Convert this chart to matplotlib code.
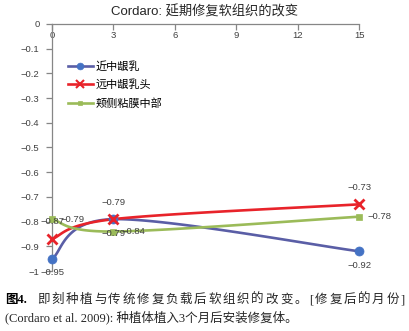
import numpy as np
import matplotlib
matplotlib.use("Agg")
import matplotlib.pyplot as plt

plt.rcParams['font.family'] = ['Liberation Sans', 'Noto Sans CJK SC', 'DejaVu Sans']
plt.rcParams['axes.unicode_minus'] = True

months = [0, 3, 15]
mesial = [-0.95, -0.79, -0.92]
distal = [-0.87, -0.79, -0.73]
buccal = [-0.79, -0.84, -0.78]
names = ['近中龈乳', '远中龈乳头', '颊侧粘膜中部']


def smooth(x, y, n=40):
    # Bezier smoothing through the points, tangents from neighbours
    p = np.column_stack([x, y]).astype(float)
    ext = np.vstack([p[0], p, p[-1]])
    out = []
    t = np.linspace(0, 1, n)[:, None]
    for i in range(len(p) - 1):
        p0, p3 = p[i], p[i + 1]
        p1 = p0 + (ext[i + 2] - ext[i]) / 6
        p2 = p3 - (ext[i + 3] - ext[i + 1]) / 6
        seg = ((1 - t) ** 3 * p0 + 3 * (1 - t) ** 2 * t * p1
               + 3 * (1 - t) * t ** 2 * p2 + t ** 3 * p3)
        out.append(seg)
    c = np.vstack(out)
    return c[:, 0], c[:, 1]


fig = plt.figure(figsize=(4.1, 3.31), dpi=100)
ax = fig.add_axes([0.127, 0.181, 0.749, 0.747])

styles = [
    (mesial, '#5a5ea6', 'o', '#4472c4', 6.5),
    (distal, '#e8232a', 'x', '#e8232a', 7.5),
    (buccal, '#9bbb59', 's', '#9bbb59', 3.8),
]
for (vals, lc, mk, mc, ms), name in zip(styles, names):
    sx, sy = smooth(months, vals)
    ax.plot(sx, sy, color=lc, lw=1.9, solid_capstyle='round', zorder=2, clip_on=False)
    ax.plot(months, vals, ls='none', marker=mk, color=mc, ms=ms,
            mew=2 if mk == 'x' else 0.5, zorder=3, clip_on=False)
    ax.plot([], [], color=lc, lw=1.9, marker=mk, mfc=mc, mec=mc, ms=ms * 0.75,
            mew=1.5 if mk == 'x' else 0.5, label=name)

lab = dict(fontsize=6.8, color='#404040')
# mesial labels below, distal above, buccal to the right
for x, v in zip(months, mesial):
    ax.annotate(f'−{abs(v):.2f}', (x, v), xytext=(0, -7), textcoords='offset points',
                ha='center', va='top', **lab)
for x, v in zip(months, distal):
    ax.annotate(f'−{abs(v):.2f}', (x, v), xytext=(0, 9), textcoords='offset points',
                ha='center', va='bottom', **lab)
for x, v in zip(months, buccal):
    ax.annotate(f'−{abs(v):.2f}', (x, v), xytext=(6, 0), textcoords='offset points',
                ha='left', va='center', **lab)

ax.set_xlim(0, 15)
ax.set_ylim(-1, 0)
ax.set_xticks([0, 3, 6, 9, 12, 15])
ax.set_yticks(np.arange(-1, 0.01, 0.1))
ax.set_yticklabels(['−1'] + [f'−{abs(v):.1f}' for v in np.arange(-0.9, -0.05, 0.1)] + ['0'])
ax.spines['bottom'].set_position(('data', 0))
ax.spines['top'].set_visible(False)
ax.spines['right'].set_visible(False)
for s in ('left', 'bottom'):
    ax.spines[s].set_color('#868686')
    ax.spines[s].set_linewidth(0.9)
ax.tick_params(axis='both', colors='#868686', labelcolor='#404040', labelsize=6.8,
               length=4, width=0.9, direction='out')
ax.tick_params(axis='y', pad=5)
ax.tick_params(axis='x', pad=1)

ax.legend(loc='upper left', bbox_to_anchor=(0.02, 0.89), frameon=False,
          fontsize=8, handlelength=2.2, labelspacing=0.7, handletextpad=0.3)

fig.text(0.5, 0.963, 'Cordaro: 延期修复软组织的改变', ha='center', va='center',
         fontsize=9.5, color='#262626')

# caption, first line spread out to full width (brackets count as half width)
cap = ['Liberation Serif', 'Noto Sans CJK SC']
fig.text(0.012, 0.093, '图4.', ha='left', va='center', fontsize=9,
         fontweight='bold', family=cap)
line1 = '即刻种植与传统修复负载后软组织的改变。[修复后的月份]'
w = np.array([0.45 if ch in '[]' else 1.0 for ch in line1])
pos = np.concatenate([[0], np.cumsum((w[:-1] + w[1:]) / 2)])
x0, x1 = 43 / 410, 403 / 410
for p, ch in zip(pos, line1):
    fig.text(x0 + (x1 - x0) * p / pos[-1], 0.093, ch, ha='center', va='center',
             fontsize=9, color='#262626', family=cap)
fig.text(0.012, 0.04, '(Cordaro et al. 2009): 种植体植入3个月后安装修复体。',
         ha='left', va='center', fontsize=9, color='#262626', family=cap)

fig.savefig('out.png', dpi=100, facecolor='white')
